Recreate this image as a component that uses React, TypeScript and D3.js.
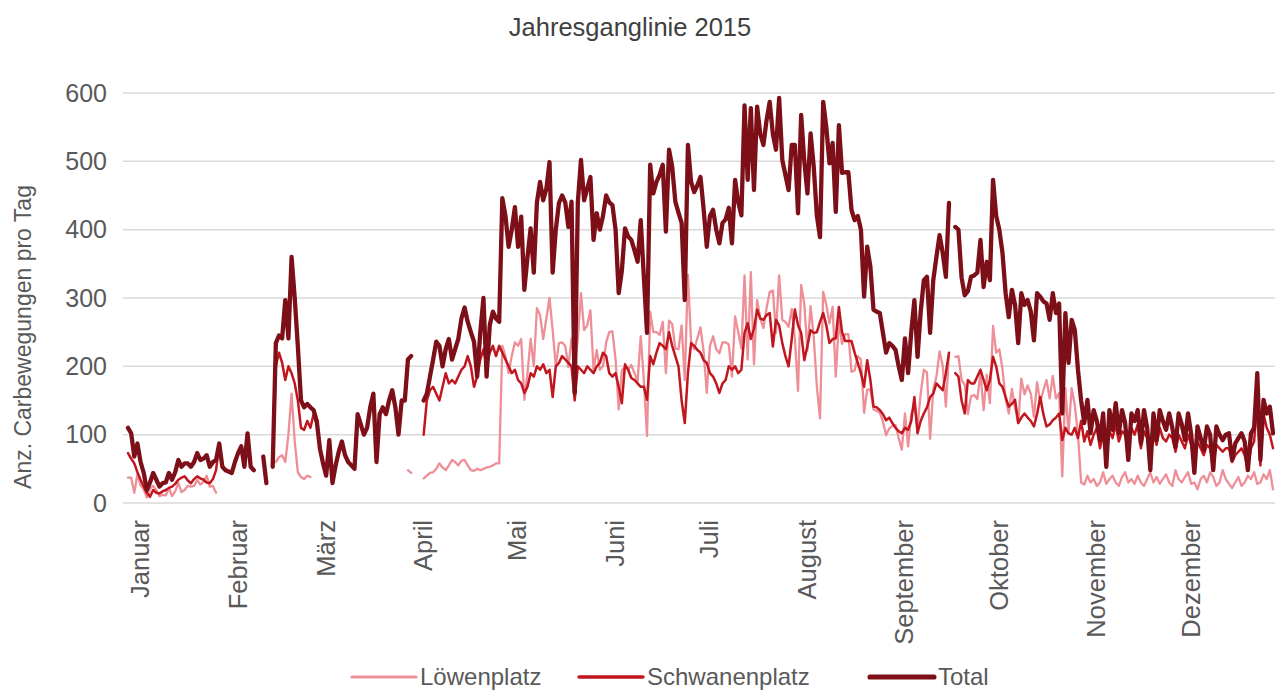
import * as d3 from 'd3';

// Tagesdaten 2015 (Index 0 = 1. Januar), null = keine Daten
const TOTAL: (number | null)[] = [
  110, 102, 68, 87, 60, 44, 19, 30, 44, 34,
  24, 29, 30, 44, 34, 45, 63, 53, 58, 58,
  53, 60, 73, 63, 65, 70, 53, 60, 63, 87,
  53, 48, 46, 44, 60, 73, 83, 53, 102, 53,
  48, null, null, 68, 29, null, 53, 234, 245, 241,
  297, 241, 360, 300, 229, 150, 140, 145, 140, 136,
  120, 80, 58, 40, 92, 29, 55, 75, 90, 70,
  60, 55, 50, 130, 115, 100, 110, 140, 160, 60,
  130, 140, 130, 150, 165, 140, 100, 150, 150, 210,
  215, null, null, null, 150, 160, 185, 210, 236, 230,
  200, 225, 240, 210, 225, 240, 270, 286, 265, 250,
  236, 185, 250, 300, 185, 260, 280, 270, 265, 446,
  420, 375, 400, 433, 375, 419, 312, 360, 402, 337,
  440, 470, 443, 460, 499, 337, 400, 439, 450, 440,
  404, 441, 161, 440, 502, 443, 460, 477, 385, 424,
  400, 420, 450, 440, 436, 400, 307, 340, 402, 390,
  385, 370, 353, 414, 330, 249, 495, 453, 470, 480,
  495, 397, 517, 492, 441, 425, 410, 297, 524, 470,
  455, 465, 477, 430, 375, 420, 429, 400, 380, 410,
  415, 432, 380, 473, 440, 421, 582, 473, 578, 458,
  580, 540, 524, 560, 587, 540, 517, 593, 502, 480,
  458, 524, 524, 424, 568, 500, 453, 541, 492, 420,
  389, 587, 550, 497, 527, 426, 553, 483, 484, 484,
  429, 414, 420, 400, 302, 375, 346, 283, 280, 278,
  249, 220, 234, 230, 224, 200, 180, 241, 190, 250,
  297, 214, 280, 326, 331, 249, 326, 360, 392, 366,
  331, 439, null, 404, 400, 330, 304, 310, 331, 333,
  337, 385, 316, 353, 326, 473, 420, 400, 366, 307,
  272, 312, 290, 234, 307, 290, 297, 280, 238, 307,
  302, 295, 292, 268, 307, 278, 292, 131, 278, 205,
  268, 253, 195, 150, 117, 151, 102, 136, 120, 92,
  131, 53, 136, 107, 146, 102, 136, 117, 63, 131,
  120, 136, 87, 136, 110, 48, 131, 92, 136, 120,
  107, 131, 110, 82, 131, 115, 92, 131, 100, 44,
  112, 95, 78, 112, 100, 48, 112, 100, 92, 100,
  102, 63, 87, 95, 102, 90, 48, 102, 110, 190,
  63, 151, 131, 141, 102,
];

const SCHWANENPLATZ: (number | null)[] = [
  73, 65, 58, 45, 34, 24, 15, 9, 19, 15,
  14, 17, 19, 22, 24, 28, 34, 37, 39, 33,
  29, 35, 39, 36, 34, 30, 29, 35, 48, 87,
  53, 48, 46, 44, 60, 73, 83, 53, 102, 53,
  48, null, null, 68, 29, null, 53, 200, 220, 205,
  180, 200, 190, 175, 150, 110, 107, 120, 110, 130,
  115, 80, 58, 40, 92, 29, 55, 75, 90, 70,
  60, 55, 50, 130, 115, 100, 110, 140, 160, 60,
  130, 140, 130, 150, 165, 140, 100, 150, 150, 210,
  215, null, null, null, 100, 150, 165, 170, 160, 150,
  170, 190, 175, 180, 175, 185, 195, 200, 215, 200,
  170, 185, 210, 225, 200, 220, 230, 215, 230, 220,
  210, 200, 190, 195, 180, 175, 161, 170, 190, 185,
  200, 195, 203, 190, 195, 155, 200, 205, 215, 210,
  205, 200, 150, 200, 195, 190, 200, 195, 190, 200,
  205, 220, 215, 190, 185, 190, 170, 146, 203, 195,
  183, 180, 175, 170, 170, 151, 215, 203, 220, 234,
  230, 225, 250, 230, 215, 200, 150, 117, 190, 234,
  230, 224, 220, 209, 205, 190, 185, 175, 161, 175,
  180, 200, 195, 200, 190, 195, 249, 263, 240, 255,
  283, 270, 268, 275, 278, 229, 268, 260, 234, 215,
  200, 240, 283, 260, 249, 209, 230, 253, 249, 250,
  265, 278, 260, 234, 240, 241, 287, 250, 237, 237,
  237, 220, 205, 190, 170, 209, 180, 141, 140, 136,
  130, 121, 125, 117, 110, 105, 102, 110, 107, 120,
  155, 102, 120, 131, 140, 155, 160, 175, 170, 165,
  190, 220, null, 190, 185, 150, 131, 180, 175, 175,
  185, 195, 180, 165, 180, 214, 200, 175, 170, 155,
  141, 145, 151, 117, 125, 131, 125, 120, 112, 130,
  155, 130, 112, 115, 121, 125, 131, 92, 110, 102,
  100, 110, 95, 120, 90, 105, 85, 100, 110, 80,
  100, 70, 105, 95, 115, 90, 105, 100, 75, 110,
  100, 115, 80, 105, 95, 65, 100, 85, 110, 95,
  90, 100, 95, 75, 100, 90, 80, 100, 85, 60,
  90, 80, 70, 85, 80, 55, 85, 80, 75, 80,
  80, 60, 70, 75, 80, 70, 50, 80, 90, 150,
  55, 130, 110, 100, 80,
];

const LOEWENPLATZ: (number | null)[] = [
  37, 37, 15, 42, 26, 20, 8, 21, 25, 19,
  10, 12, 11, 22, 10, 17, 29, 16, 19, 25,
  24, 25, 34, 27, 31, 40, 24, 25, 15, null,
  null, null, null, null, null, null, null, null, null, null,
  null, null, null, null, null, null, null, 60, 67, 70,
  60, 100, 160, 90, 45, 38, 35, 40, 38, null,
  null, null, null, null, null, null, null, null, null, null,
  null, null, null, null, null, null, null, null, null, null,
  null, null, null, null, null, null, null, null, null, 48,
  44, null, null, null, 36, 40, 44, 45, 50, 58,
  52, 48, 55, 63, 60, 55, 62, 63, 55, 48,
  47, 50, 48, 50, 52, 53, 55, 58, 58, 230,
  215, 190, 215, 235, 230, 240, 151, 190, 240, 200,
  285, 275, 240, 270, 300, 253, 200, 234, 235, 230,
  199, 241, 200, 240, 307, 253, 260, 282, 195, 224,
  195, 200, 235, 250, 251, 210, 137, 194, 199, 195,
  202, 190, 178, 244, 179, 98, 280, 250, 250, 246,
  265, 190, 267, 262, 226, 225, 260, 180, 334, 236,
  225, 241, 257, 221, 161, 230, 244, 225, 219, 235,
  235, 232, 185, 273, 250, 226, 333, 210, 338, 203,
  297, 270, 256, 285, 309, 311, 249, 333, 268, 265,
  258, 284, 241, 164, 319, 291, 223, 288, 243, 170,
  124, 309, 290, 263, 287, 185, 266, 233, 247, 247,
  192, 194, 215, 210, 132, 166, 166, 137, 135, 132,
  119, 99, 109, 113, 114, 95, 78, 131, 83, 130,
  142, 112, 160, 195, 191, 94, 166, 185, 222, 201,
  141, 219, null, 214, 215, 180, 173, 130, 156, 158,
  152, 190, 136, 188, 146, 259, 220, 225, 196, 152,
  131, 167, 139, 117, 182, 159, 172, 160, 126, 177,
  147, 165, 180, 153, 186, 153, 161, 39, 168, 103,
  168, 143, 100, 30, 27, 40, 30, 35, 25, 30,
  45, 28, 35, 40, 30, 25, 38, 45, 30, 35,
  28, 40, 30, 25, 35, 45, 30, 38, 28, 35,
  42, 30, 25, 48, 35, 30, 38, 45, 28, 30,
  20, 35, 40, 30, 45, 38, 25, 30, 48, 35,
  28, 22, 30, 38, 25, 30, 40, 35, 45, 28,
  30, 42, 35, 48, 20,
];

const MONTHS = ['Januar', 'Februar', 'März', 'April', 'Mai', 'Juni', 'Juli', 'August', 'September', 'Oktober', 'November', 'Dezember'];
const MONTH_START = [0, 31, 59, 90, 120, 151, 181, 212, 243, 273, 304, 334];
const Y_TICKS = [0, 100, 200, 300, 400, 500, 600];

const SERIES = [
  { name: 'Löwenplatz', values: LOEWENPLATZ, color: '#ee8e96', width: 2.3 },
  { name: 'Schwanenplatz', values: SCHWANENPLATZ, color: '#c2161f', width: 2.5 },
  { name: 'Total', values: TOTAL, color: '#7d0f18', width: 4.3 },
];

const WIDTH = 1280;
const HEIGHT = 692;
const FONT = 'Liberation Sans, Arial, sans-serif';
const TEXT = '#595959';

export default function App() {
  const x = d3.scaleLinear().domain([0, 364]).range([128, 1273]);
  const y = d3.scaleLinear().domain([0, 600]).range([503, 93]);

  const line = d3.line<number | null>()
    .defined(d => d != null)
    .x((_, i) => x(i))
    .y(d => y(d as number));

  const legendX = [352, 579, 870];

  return (
    <div style={{ position: 'absolute', left: 0, top: 0 }}>
      <svg width={WIDTH} height={HEIGHT} style={{ display: 'block', background: '#fff' }} fontFamily={FONT}>
        <text x={630} y={36} textAnchor="middle" fontSize={25.5} fill="#404040">Jahresganglinie 2015</text>

        {/* Gitterlinien + y-Achse */}
        {Y_TICKS.map(t => (
          <g key={t}>
            <line x1={123} x2={1275} y1={y(t)} y2={y(t)} stroke="#d9d9d9" strokeWidth={1.5} />
            <text x={107} y={y(t)} dy="0.35em" textAnchor="end" fontSize={25} fill={TEXT}>{t}</text>
          </g>
        ))}
        <text transform={`translate(31, 337) rotate(-90)`} textAnchor="middle" fontSize={23} fill={TEXT}>
          Anz. Carbewegungen pro Tag
        </text>

        {/* Monatsbeschriftung */}
        {MONTHS.map((m, i) => (
          <text
            key={m}
            transform={`translate(${x(MONTH_START[i]) + 12 + 9}, 520) rotate(-90)`}
            textAnchor="end"
            fontSize={25.5}
            fill={TEXT}
          >
            {m}
          </text>
        ))}

        {SERIES.map(s => (
          <path
            key={s.name}
            d={line(s.values) ?? ''}
            fill="none"
            stroke={s.color}
            strokeWidth={s.width}
            strokeLinejoin="round"
            strokeLinecap="round"
          />
        ))}

        {/* Legende */}
        {SERIES.map((s, i) => (
          <g key={s.name} transform={`translate(${legendX[i]}, 677)`}>
            <line x1={0} x2={64} y1={0} y2={0} stroke={s.color} strokeWidth={s.width + 0.8} strokeLinecap="round" />
            <text x={68} y={0} dy="0.35em" fontSize={24} fill={TEXT}>{s.name}</text>
          </g>
        ))}
      </svg>
    </div>
  );
}
